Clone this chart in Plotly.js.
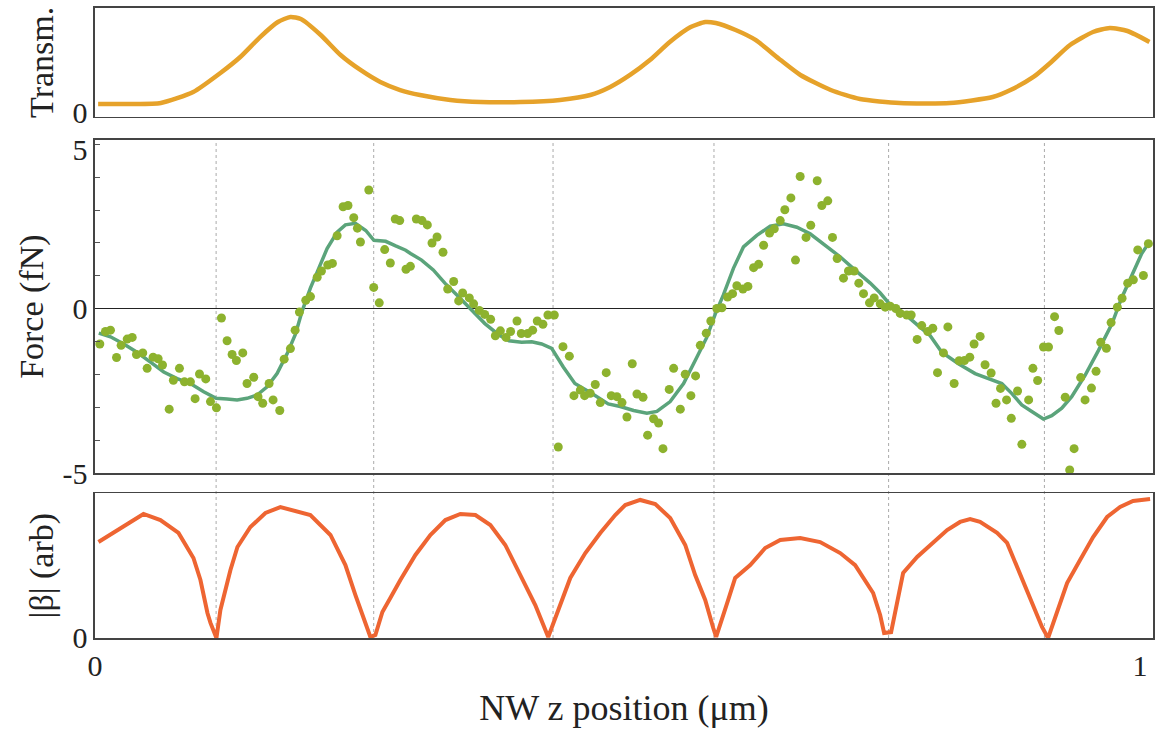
<!DOCTYPE html>
<html>
<head>
<meta charset="utf-8">
<script src="https://cdn.plot.ly/plotly-3.0.1.min.js"></script>
<style>html,body{margin:0;padding:0;background:#fff;}#chart{width:1161px;height:729px;}</style>
</head>
<body>
<div id="chart"></div>
<script>
// ---- Transmission (top panel) ----
const transmX = [0.003,0.034,0.063,0.094,0.120,0.139,0.158,0.175,0.187,0.197,0.216,0.235,0.254,0.273,0.292,0.311,0.340,0.369,0.407,0.445,0.474,0.493,0.512,0.531,0.550,0.570,0.584,0.594,0.613,0.632,0.656,0.675,0.704,0.732,0.770,0.818,0.859,0.876,0.898,0.914,0.933,0.955,0.971,0.988,1.009];
const transmY = [0.081,0.081,0.091,0.196,0.378,0.531,0.722,0.866,0.914,0.895,0.742,0.550,0.407,0.292,0.215,0.167,0.120,0.100,0.100,0.120,0.167,0.244,0.359,0.502,0.675,0.818,0.866,0.856,0.789,0.694,0.502,0.359,0.215,0.129,0.091,0.091,0.148,0.215,0.340,0.474,0.646,0.770,0.809,0.780,0.675];

// ---- Force fit line (middle panel) ----
const fitX = [0.0036,0.0148,0.0275,0.0402,0.0531,0.0658,0.0786,0.0913,0.1040,0.1159,0.1264,0.1360,0.1455,0.1551,0.1647,0.1742,0.1838,0.1918,0.1982,0.2061,0.2141,0.2221,0.2317,0.2396,0.2492,0.2591,0.2669,0.2781,0.2877,0.2973,0.3019,0.3125,0.3237,0.3348,0.3475,0.3603,0.3731,0.3859,0.3962,0.4083,0.4179,0.4274,0.4370,0.4481,0.4592,0.4751,0.4911,0.5026,0.5154,0.5281,0.5377,0.5504,0.5632,0.5759,0.5854,0.5934,0.6014,0.6109,0.6205,0.6333,0.6461,0.6588,0.6716,0.6843,0.6971,0.7130,0.7290,0.7418,0.7514,0.7594,0.7657,0.7753,0.7880,0.7992,0.8103,0.8262,0.8422,0.8549,0.8677,0.8772,0.8868,0.8964,0.9075,0.9155,0.9251,0.9346,0.9474,0.9601,0.9729,0.9824,0.9920,1.0016,1.0079];
const fitY = [-0.74,-0.85,-1.07,-1.32,-1.62,-1.92,-2.12,-2.27,-2.52,-2.72,-2.74,-2.77,-2.72,-2.62,-2.37,-1.97,-1.37,-0.77,-0.07,0.63,1.23,1.83,2.33,2.55,2.60,2.38,2.08,2.05,1.91,1.78,1.68,1.48,1.18,0.78,0.38,-0.05,-0.45,-0.78,-0.97,-1.02,-1.00,-1.07,-1.20,-1.77,-2.27,-2.57,-2.89,-2.97,-3.09,-3.17,-3.12,-2.82,-2.27,-1.47,-0.87,-0.17,0.43,1.23,1.88,2.23,2.51,2.58,2.48,2.28,1.98,1.58,1.13,0.78,0.48,0.18,0.05,-0.17,-0.52,-0.82,-1.32,-1.67,-1.97,-2.12,-2.27,-2.57,-2.92,-3.12,-3.35,-3.25,-3.02,-2.67,-2.02,-1.27,-0.47,0.33,1.03,1.68,1.98];

// ---- Force measured points (middle panel) ----
const ptsX = [0.0046,0.0100,0.0148,0.0206,0.0250,0.0308,0.0356,0.0397,0.0457,0.0499,0.0556,0.0604,0.0646,0.0710,0.0750,0.0808,0.0856,0.0913,0.0958,0.1000,0.1060,0.1105,0.1162,0.1210,0.1264,0.1312,0.1353,0.1414,0.1455,0.1519,0.1560,0.1605,0.1666,0.1704,0.1768,0.1810,0.1870,0.1915,0.1956,0.2017,0.2062,0.2126,0.2167,0.2227,0.2272,0.2317,0.2374,0.2421,0.2476,0.2511,0.2540,0.2620,0.2667,0.2720,0.2772,0.2826,0.2873,0.2916,0.2976,0.3018,0.3075,0.3129,0.3180,0.3225,0.3273,0.3330,0.3375,0.3432,0.3480,0.3518,0.3582,0.3623,0.3677,0.3729,0.3786,0.3831,0.3879,0.3933,0.3977,0.4038,0.4079,0.4140,0.4188,0.4232,0.4286,0.4334,0.4395,0.4433,0.4478,0.4539,0.4583,0.4644,0.4685,0.4739,0.4787,0.4835,0.4892,0.4940,0.4994,0.5043,0.5090,0.5141,0.5186,0.5244,0.5288,0.5345,0.5393,0.5435,0.5495,0.5537,0.5601,0.5648,0.5702,0.5747,0.5792,0.5849,0.5893,0.5950,0.5999,0.6053,0.6101,0.6142,0.6200,0.6248,0.6302,0.6350,0.6398,0.6455,0.6500,0.6557,0.6601,0.6659,0.6703,0.6748,0.6804,0.6849,0.6911,0.6955,0.7012,0.7057,0.7102,0.7162,0.7210,0.7264,0.7309,0.7354,0.7411,0.7456,0.7514,0.7562,0.7609,0.7663,0.7705,0.7768,0.7810,0.7867,0.7911,0.7969,0.8017,0.8062,0.8119,0.8161,0.8221,0.8269,0.8320,0.8371,0.8412,0.8470,0.8517,0.8575,0.8622,0.8665,0.8723,0.8768,0.8828,0.8869,0.8934,0.8975,0.9020,0.9076,0.9124,0.9182,0.9223,0.9284,0.9327,0.9369,0.9432,0.9474,0.9535,0.9579,0.9624,0.9678,0.9723,0.9783,0.9828,0.9882,0.9936,0.9978,1.0032,1.0080];
const ptsY = [-1.07,-0.69,-0.65,-1.48,-1.11,-0.92,-0.87,-1.39,-1.34,-1.81,-1.47,-1.52,-1.71,-3.05,-2.17,-1.81,-2.22,-2.22,-2.73,-1.98,-2.13,-2.82,-3.01,-0.28,-0.97,-1.39,-1.57,-1.34,-2.27,-2.08,-2.67,-2.87,-2.27,-2.77,-3.09,-1.53,-1.21,-0.65,-0.10,0.26,0.37,0.96,1.15,1.33,1.38,2.22,3.10,3.14,2.77,2.45,2.03,3.61,0.65,0.18,1.80,1.39,2.73,2.68,1.20,1.29,2.73,2.68,2.55,2.00,2.18,1.72,0.60,0.83,0.24,0.48,0.33,0.15,-0.05,-0.17,-0.32,-0.82,-0.67,-0.87,-0.69,-0.37,-0.75,-0.75,-0.65,-0.37,-0.47,-0.19,-0.19,-4.20,-1.15,-1.44,-2.64,-2.47,-2.64,-2.57,-2.30,-2.85,-1.94,-2.64,-2.67,-2.85,-3.29,-1.67,-2.59,-2.69,-3.84,-3.34,-3.47,-4.25,-2.45,-1.81,-3.05,-1.99,-2.64,-2.04,-1.11,-0.74,-0.37,0.01,0.03,0.36,0.46,0.70,0.60,0.68,1.25,1.35,1.93,2.30,2.43,2.68,3.01,3.37,1.48,4.02,2.17,2.54,3.89,3.14,3.28,2.17,1.53,0.93,1.15,1.15,0.78,0.46,0.18,0.33,0.15,0.05,0.08,0.01,-0.14,-0.19,-0.19,-0.93,-0.51,-0.69,-0.59,-1.94,-1.34,-0.55,-2.27,-1.58,-1.57,-1.47,-1.07,-0.84,-1.70,-1.95,-2.87,-2.42,-2.77,-3.33,-2.50,-4.12,-2.77,-1.81,-2.18,-1.16,-1.16,-0.24,-0.66,-2.69,-4.90,-4.25,-2.09,-2.77,-2.41,-1.90,-1.02,-1.20,-0.42,0.05,0.32,0.78,0.88,1.79,1.01,1.98];

// ---- |beta| (bottom panel) ----
const betaX = [0.0033,0.0244,0.0464,0.0626,0.0799,0.0942,0.1009,0.1076,0.1105,0.1162,0.1200,0.1296,0.1363,0.1487,0.1631,0.1774,0.1966,0.2061,0.2253,0.2396,0.2492,0.2587,0.2635,0.2683,0.2750,0.2826,0.2922,0.3066,0.3209,0.3353,0.3496,0.3640,0.3783,0.3926,0.4070,0.4213,0.4337,0.4472,0.4548,0.4692,0.4835,0.4978,0.5074,0.5217,0.5361,0.5504,0.5648,0.5743,0.5839,0.5916,0.5944,0.6059,0.6126,0.6270,0.6413,0.6557,0.6748,0.6939,0.7131,0.7274,0.7446,0.7513,0.7551,0.7618,0.7733,0.7867,0.7991,0.8154,0.8278,0.8374,0.8469,0.8632,0.8728,0.8823,0.8948,0.9062,0.9120,0.9206,0.9302,0.9426,0.9551,0.9685,0.9809,0.9933,1.0096];
const betaY = [0.663,0.760,0.857,0.815,0.726,0.553,0.401,0.173,0.104,0.000,0.194,0.470,0.629,0.767,0.864,0.905,0.864,0.850,0.712,0.504,0.297,0.090,0.007,0.021,0.180,0.276,0.401,0.574,0.712,0.815,0.857,0.850,0.781,0.643,0.435,0.228,0.007,0.263,0.415,0.587,0.726,0.850,0.919,0.954,0.926,0.829,0.643,0.435,0.263,0.069,0.007,0.263,0.415,0.504,0.622,0.677,0.691,0.663,0.587,0.504,0.311,0.159,0.035,0.041,0.449,0.560,0.643,0.746,0.802,0.822,0.802,0.726,0.657,0.491,0.283,0.076,0.000,0.173,0.380,0.539,0.698,0.836,0.905,0.947,0.961];

// ---- node positions (dotted guides) ----
const nodeX = [0.1159,0.2667,0.4383,0.5923,0.7594,0.9085];

// ---- tick labels ----
const xTickVals = [0, 1];
const xTickText = ['0', '1'];
const forceLabelVals = [-5, 0, 4.85];   // "5" label sits just below the top frame, as in the reference
const forceLabelText = ['-5', '0', '5'];
const forceMinorVals = [-4,-3,-2,-1,1,2,3,4,5];

const FONT = 'Liberation Serif';
const FRAME = '#444';
const xRange = [0, 1.0124];
const TICKFONT = {family: FONT, size: 30, color: '#222'};
const TITLEFONT = {family: FONT, size: 34, color: '#222'};

const traces = [
  {x: transmX, y: transmY, xaxis: 'x3', yaxis: 'y3', mode: 'lines', line: {color: '#E6A22A', width: 4.5, shape: 'spline', smoothing: 0.6}, hoverinfo: 'skip'},
  {x: fitX, y: fitY, xaxis: 'x2', yaxis: 'y2', mode: 'lines', line: {color: '#5BA47B', width: 3.5}, hoverinfo: 'skip'},
  {x: ptsX, y: ptsY, xaxis: 'x2', yaxis: 'y2', mode: 'markers', marker: {color: '#8DB22E', size: 9}, cliponaxis: true, hoverinfo: 'skip'},
  {x: betaX, y: betaY, xaxis: 'x', yaxis: 'y', mode: 'lines', line: {color: '#EE6532', width: 4}, hoverinfo: 'skip'}
];

const shapes = nodeX.map(v => ({
  type: 'line', xref: 'x', yref: 'paper', x0: v, x1: v, y0: 0, y1: 0.787,
  line: {color: '#aaaaaa', width: 1, dash: 'dot'}, layer: 'below'
}));

const axBase = {showline: true, mirror: true, linecolor: FRAME, linewidth: 1.6, showgrid: false, zeroline: false};

const layout = {
  width: 1161, height: 729,
  margin: {l: 95, r: 8, t: 8, b: 91},
  paper_bgcolor: '#fff', plot_bgcolor: '#fff',
  showlegend: false,
  font: {family: FONT, color: '#222', size: 24},
  xaxis: Object.assign({}, axBase, {anchor: 'y', range: xRange, tickvals: xTickVals, ticktext: xTickText, ticks: '',
    tickfont: TICKFONT,
    title: {text: 'NW z position (μm)', font: {family: FONT, size: 36, color: '#222'}, standoff: 14}}),
  xaxis2: Object.assign({}, axBase, {anchor: 'y2', range: xRange, matches: 'x', showticklabels: false, ticks: ''}),
  xaxis3: Object.assign({}, axBase, {anchor: 'y3', range: xRange, matches: 'x', showticklabels: false, ticks: ''}),
  yaxis: Object.assign({}, axBase, {domain: [0, 0.2297], range: [0, 1], tickvals: [0], ticktext: ['0'], ticks: '',
    tickfont: TICKFONT,
    title: {text: '|β| (arb)', font: TITLEFONT, standoff: 8}}),
  yaxis2: Object.assign({}, axBase, {domain: [0.2614, 0.7905], range: [-5.0, 5.13],
    tickmode: 'array', tickvals: forceLabelVals, ticktext: forceLabelText, ticks: '',
    minor: {tickmode: 'array', tickvals: forceMinorVals, ticks: 'inside', ticklen: 5, tickwidth: 1, tickcolor: '#555', showgrid: false},
    zeroline: true, zerolinecolor: '#222', zerolinewidth: 1.4,
    tickfont: TICKFONT,
    title: {text: 'Force (fN)', font: TITLEFONT, standoff: 8}}),
  yaxis3: Object.assign({}, axBase, {domain: [0.8275, 1], range: [-0.04, 1], tickvals: [0], ticktext: ['0'], ticks: '',
    tickfont: TICKFONT,
    title: {text: 'Transm.', font: TITLEFONT, standoff: 8}}),
  shapes: shapes
};

Plotly.newPlot('chart', traces, layout, {displayModeBar: false, staticPlot: true});
</script>
</body>
</html>
